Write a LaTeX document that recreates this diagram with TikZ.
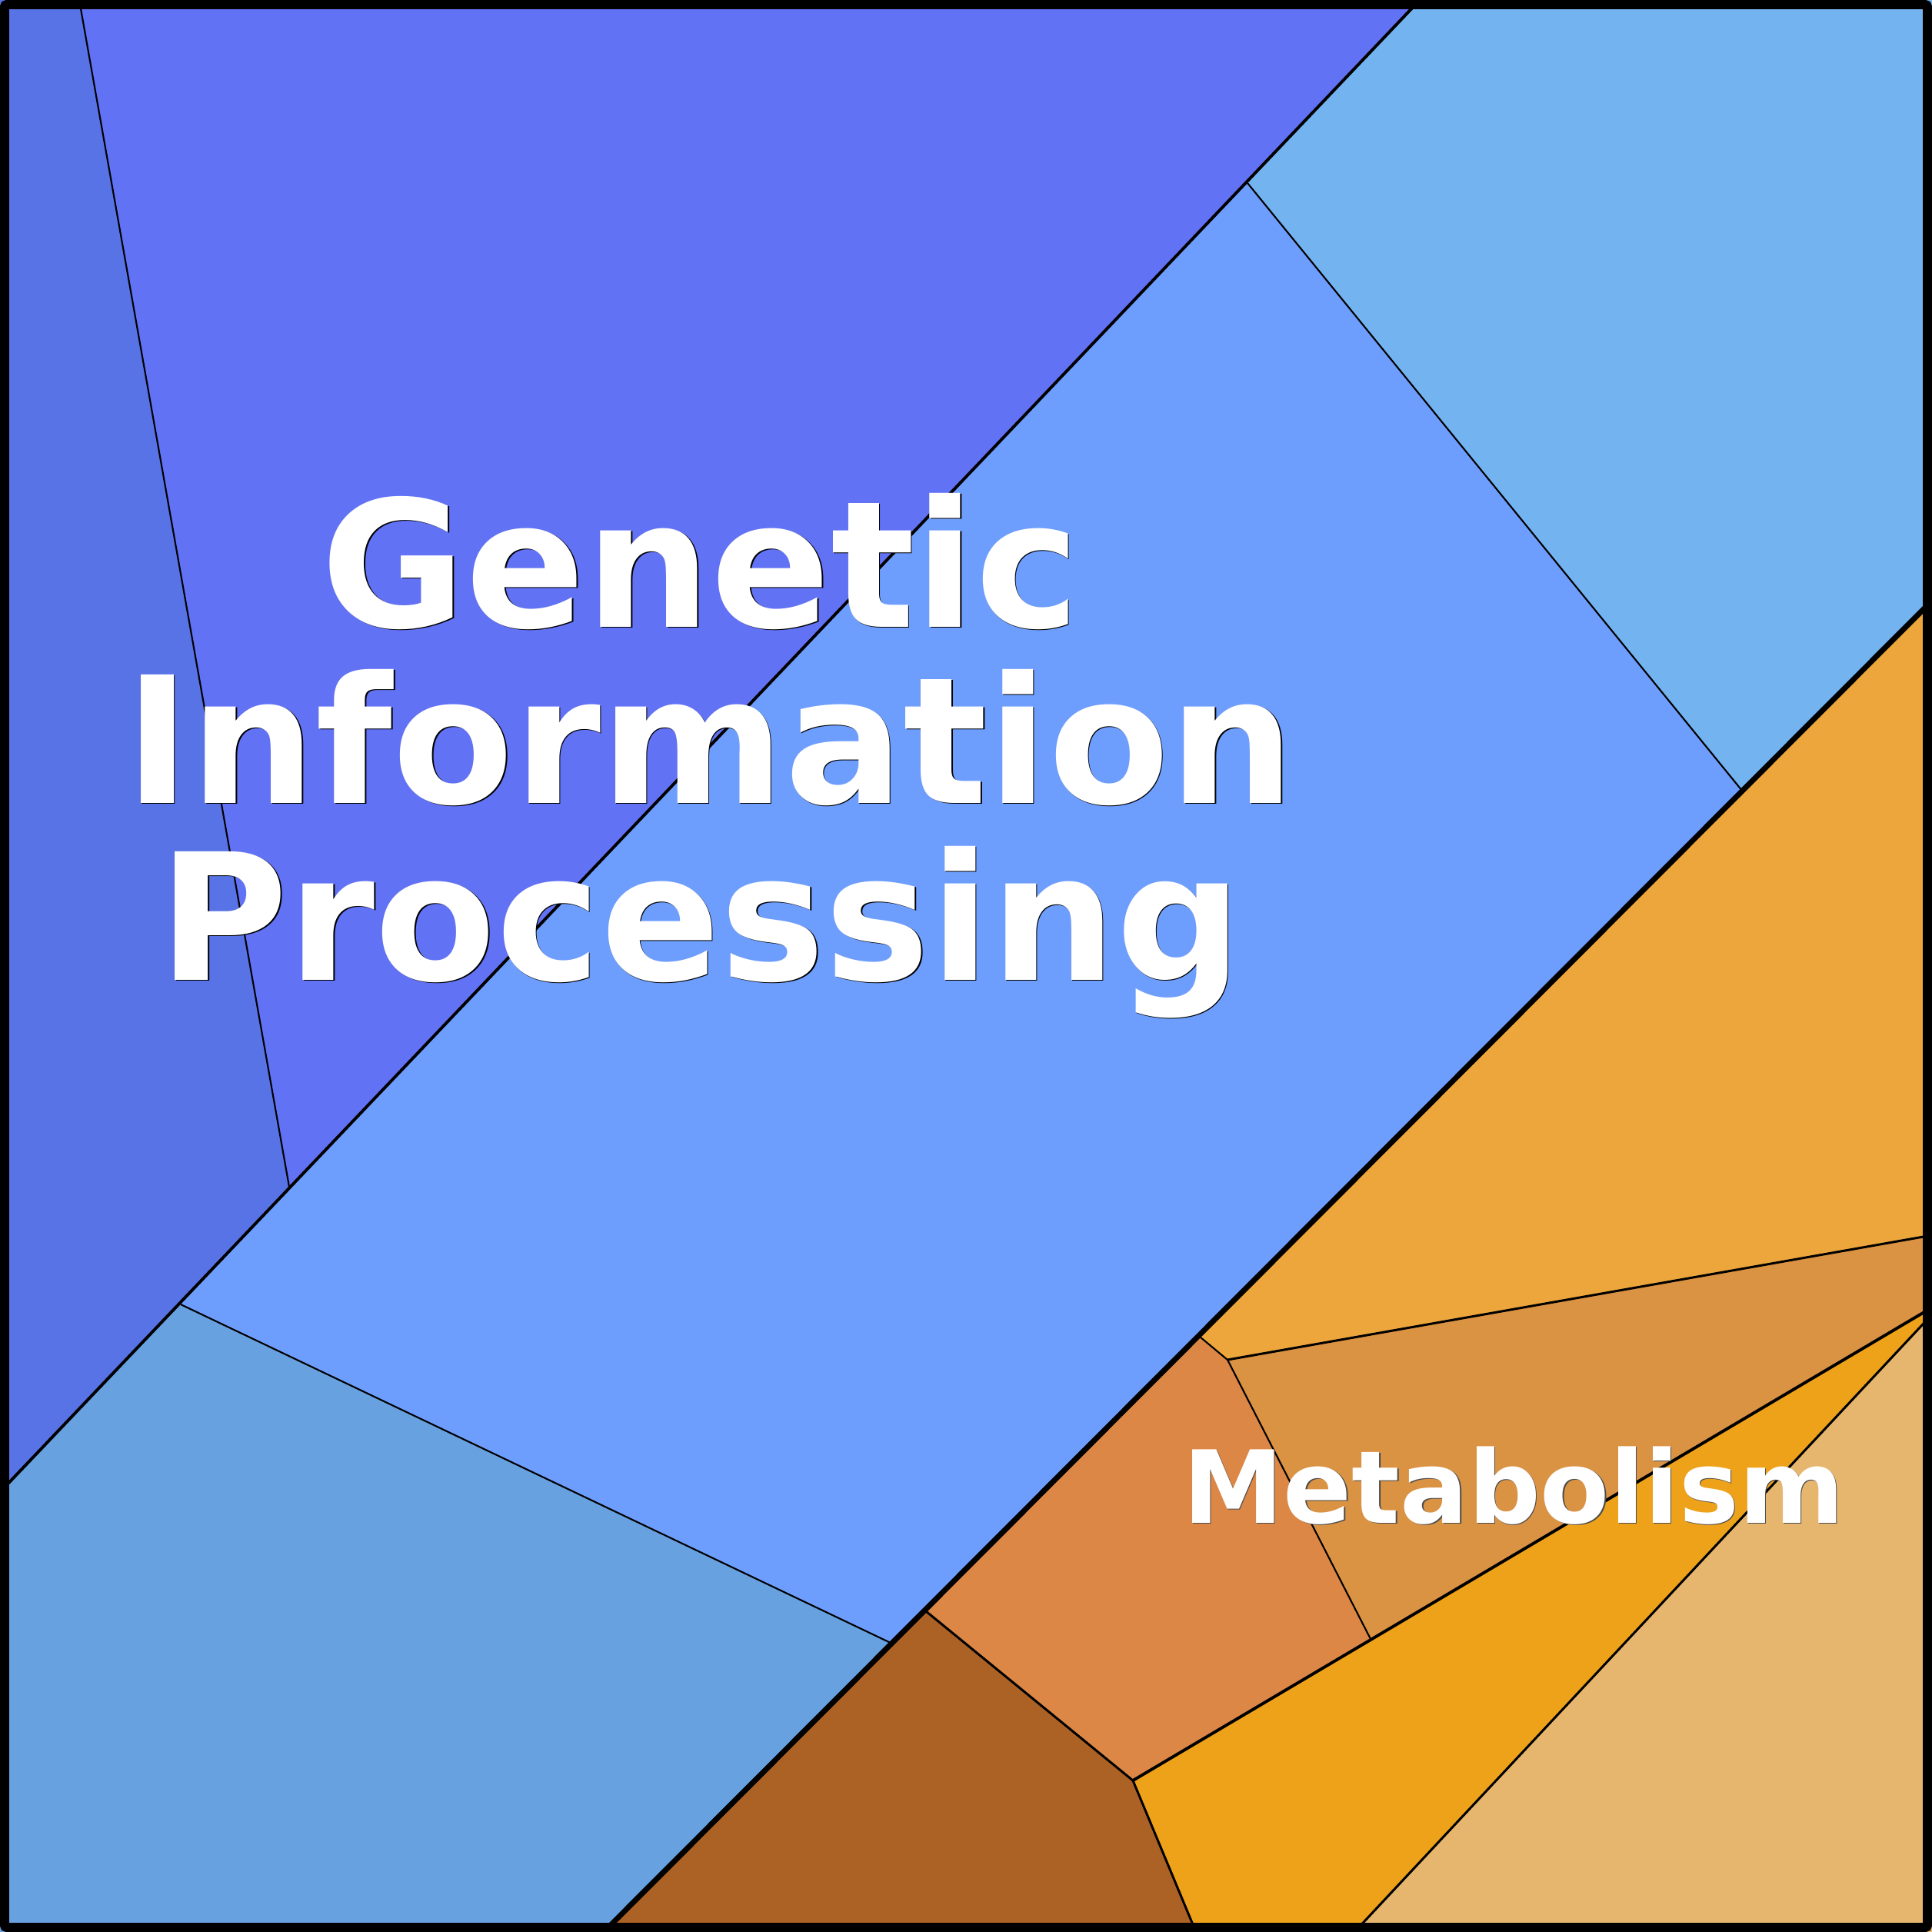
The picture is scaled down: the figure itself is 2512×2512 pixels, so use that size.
\documentclass[tikz,border=0pt]{standalone}
\usepackage{fontspec}
\newfontfamily\djv{DejaVu Sans}
\definecolor{cDark}{HTML}{5873E6}
\definecolor{cPurple}{HTML}{6272F5}
\definecolor{cSky}{HTML}{73B3EF}
\definecolor{cMid}{HTML}{6E9EFD}
\definecolor{cLow}{HTML}{68A1E0}
\definecolor{cOrTop}{HTML}{EDA63B}
\definecolor{cOrMid}{HTML}{DA9243}
\definecolor{cOrRed}{HTML}{DC8746}
\definecolor{cBrown}{HTML}{AD6225}
\definecolor{cGold}{HTML}{EEA21A}
\definecolor{cTan}{HTML}{E6B66E}
\newcommand{\shadowed}[2]{\leavevmode\rlap{\kern0.45pt\raisebox{-0.45pt}{\textcolor{#1}{#2}}}#2}
\tikzset{
  cell/.style={fill=#1, draw=none},
  lvlone/.style={draw=black, line width=2pt},
  lvltwo/.style={draw=black, line width=1.1pt},
  lvlthree/.style={draw=black, line width=0.85pt},
  lvlfour/.style={draw=black, line width=0.6pt},
  bigtitle/.style={text=white, anchor=base, inner sep=0pt, font=\djv\bfseries\fontsize{65.2pt}{65.2pt}\selectfont},
  subtitle/.style={text=white, anchor=base, inner sep=0pt, font=\djv\bfseries\fontsize{37.3pt}{37.3pt}\selectfont},
}
\begin{document}
\begin{tikzpicture}[x=0.01cm, y=-0.01cm]
\useasboundingbox (0,0) rectangle (2512,2512);
% named vertices
\coordinate (tl) at (0,0);
\coordinate (tr) at (2512,0);
\coordinate (br) at (2512,2512);
\coordinate (bl) at (0,2512);
\coordinate (a1) at (103,0);
\coordinate (a2) at (1846,0);
\coordinate (b1) at (376,1543);
\coordinate (b2) at (235,1696);
\coordinate (b3) at (0,1940);
\coordinate (c1) at (1622,238);
\coordinate (c2) at (2265,1028);
\coordinate (c3) at (1160,2137);
\coordinate (r1) at (2512,781);
\coordinate (r2) at (2512,1606);
\coordinate (r3) at (2512,1700);
\coordinate (r4) at (2512,1709);
\coordinate (d1) at (785,2512);
\coordinate (d2) at (1555,2512);
\coordinate (d3) at (1761,2512);
\coordinate (m1) at (1560,1738);
\coordinate (m2) at (1596,1768);
\coordinate (m3) at (1782,2131);
\coordinate (m4) at (1473,2315);
\coordinate (m5) at (1204,2095);
% cells
\fill[cell=cDark] (tl) -- (a1) -- (b1) -- (b2) -- (b3) -- cycle;
\fill[cell=cPurple] (a1) -- (a2) -- (c1) -- (b1) -- cycle;
\fill[cell=cSky] (a2) -- (tr) -- (r1) -- (c2) -- (c1) -- cycle;
\fill[cell=cMid] (c1) -- (c2) -- (c3) -- (b2) -- (b1) -- cycle;
\fill[cell=cLow] (b3) -- (b2) -- (c3) -- (d1) -- (bl) -- cycle;
\fill[cell=cOrTop] (r1) -- (r2) -- (m2) -- (m1) -- cycle;
\fill[cell=cOrMid] (m2) -- (r2) -- (r3) -- (m3) -- cycle;
\fill[cell=cOrRed] (m1) -- (m2) -- (m3) -- (m4) -- (m5) -- cycle;
\fill[cell=cBrown] (m5) -- (m4) -- (d2) -- (d1) -- cycle;
\fill[cell=cGold] (m4) -- (r3) -- (r4) -- (d3) -- (d2) -- cycle;
\fill[cell=cTan] (r4) -- (br) -- (d3) -- cycle;
% boundaries
\draw[lvlfour] (a1) -- (b1);
\draw[lvlfour] (c1) -- (c2);
\draw[lvlfour] (b2) -- (c3);
\draw[lvltwo] (a2) -- (b3);
\draw[lvlfour] (m1) -- (m2);
\draw[lvlthree] (m2) -- (r2);
\draw[lvlfour] (m2) -- (m3);
\draw[lvltwo] (m4) -- (r3);
\draw[lvlthree] (m5) -- (m4);
\draw[lvlthree] (m4) -- (d2);
\draw[lvlthree] (r4) -- (d3);
\draw[lvlone] (r1) -- (d1);
% labels
\node[bigtitle] (gip1) at (911,815) {\shadowed{black}{Genetic}};
\node[bigtitle] (gip2) at (923,1044) {\shadowed{black}{Information}};
\node[bigtitle] (gip3) at (911,1274) {\shadowed{black}{Processing}};
\node[subtitle] (met) at (1968,1980) {\shadowed{black!70}{Metabolism}};
% frame
\draw[line width=3.4pt, rounded corners=0.8pt] (6,6) rectangle (2506,2506);
\end{tikzpicture}
\end{document}
